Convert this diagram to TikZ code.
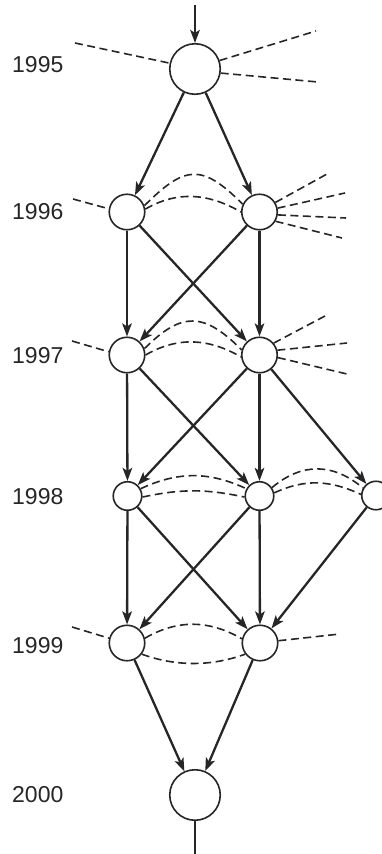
\documentclass[tikz,border=0pt]{standalone}
\usepackage{fontspec}
\setmainfont{Liberation Sans}
\usetikzlibrary{arrows.meta}

\begin{document}
\begin{tikzpicture}[x=1pt,y=-1pt,
  year/.style={circle,draw=linegray,line width=1.6pt,fill=white,inner sep=0pt},
  big/.style={year,minimum size=50.5pt},
  mid/.style={year,minimum size=35.5pt},
  small/.style={year,minimum size=28.5pt},
  link/.style={draw=linegray,line width=2.3pt,-{Stealth[length=13pt,width=9.5pt,inset=3pt]}},
  tie/.style={draw=linegray,line width=1.6pt,dash pattern=on 8pt off 4.5pt},
  yearlabel/.style={anchor=west,inner sep=0pt,font=\fontsize{23}{27}\selectfont,text=linegray}]

% Colors
\definecolor{linegray}{RGB}{38,38,38}

\useasboundingbox (0,0) rectangle (382,854);

% Years
\node[yearlabel] (t95) at (12,65) {1995};
\node[yearlabel] (t96) at (12,211.5) {1996};
\node[yearlabel] (t97) at (12,356) {1997};
\node[yearlabel] (t98) at (12,497) {1998};
\node[yearlabel] (t99) at (12,645.5) {1999};
\node[yearlabel] (t00) at (12,795) {2000};

% Circles
\node[big] (n95) at (195,69) {};
\node[mid] (l96) at (127,212) {};
\node[mid] (r96) at (259.5,212) {};
\node[mid] (l97) at (127,355) {};
\node[mid] (r97) at (259.5,355) {};
\node[small] (l98) at (127.5,496) {};
\node[small] (m98) at (259.5,496) {};
\node[small] (r98) at (376,495.5) {};
\node[mid] (l99) at (127,643) {};
\node[mid] (r99) at (260,643) {};
\node[big] (n00) at (195,795) {};

% Free ends
\coordinate (top) at (195,5);
\coordinate (bottom) at (195,854);
\coordinate (w95) at (75,43);
\coordinate (e95a) at (316,31);
\coordinate (e95b) at (318,82);
\coordinate (w96) at (73,199);
\coordinate (e96a) at (327,174);
\coordinate (e96b) at (345,193);
\coordinate (e96c) at (346,218);
\coordinate (e96d) at (342,238);
\coordinate (w97) at (72,341);
\coordinate (e97a) at (325,316);
\coordinate (e97b) at (347,343);
\coordinate (e97c) at (347,374);
\coordinate (w99) at (72,627);
\coordinate (e99) at (340,634);

% Arrows
\draw[link] (top) -- (n95.north);
\foreach \a/\b in {n95/l96,n95/r96,l96/l97,l96/r97,r96/l97,r96/r97,
                   l97/l98,l97/m98,r97/l98,r97/m98,r97/r98,
                   l98/l99,l98/r99,m98/l99,m98/r99,r98/r99,l99/n00,r99/n00} {
  \draw[link] (\a) -- (\b);
}
\draw[draw=linegray,line width=1.6pt] (n00) -- (bottom);

% Dashed ends
\draw[tie] (w95) -- (n95.167);
\draw[tie] (n95.19) -- (e95a);
\draw[tie] (n95.-9) -- (e95b);
\draw[tie] (w96) -- (l96.170);
\foreach \ang/\pt in {31/e96a,12/e96b,-9/e96c,-30/e96d} {
  \draw[tie] (r96.\ang) -- (\pt);
}
\draw[tie] (w97) -- (l97.170);
\foreach \ang/\pt in {40/e97a,15/e97b,-8/e97c} {
  \draw[tie] (r97.\ang) -- (\pt);
}
\draw[tie] (w99) -- (l99.165);
\draw[tie] (r99.7) -- (e99);

% Dashed curves
\draw[tie] (l96.20) to[out=45,in=135,looseness=1.5] (r96.155);
\draw[tie] (l96.9) to[out=30,in=150] (r96.180);
\draw[tie] (l97.20) to[out=45,in=135,looseness=1.4] (r97.164);
\draw[tie] (l97.0) to[out=30,in=150] (r97.186);
\draw[tie] (l98.29) to[out=25,in=155] (m98.151);
\draw[tie] (l98.-4) to[out=12,in=168] (m98.184);
\draw[tie] (m98.34) to[out=40,in=140,looseness=1.1] (r98.150);
\draw[tie] (m98.12) to[out=25,in=155] (r98.176);
\draw[tie] (l99.15) to[out=30,in=150] (r99.167);
\draw[tie] (l99.-37) to[out=-20,in=-160,looseness=0.9] (r99.-143);

\end{tikzpicture}
\end{document}
